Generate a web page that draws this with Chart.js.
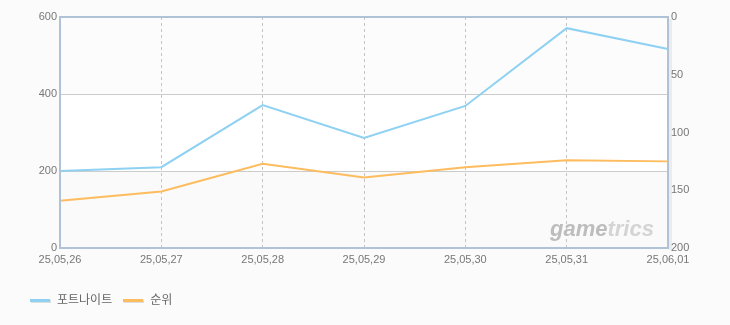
<!DOCTYPE html>
<html>
<head>
<meta charset="utf-8">
<script src="https://cdn.jsdelivr.net/npm/chart.js@4"></script>
<style>
  body { margin: 0; background: #fbfbfb; }
  #wrap { position: relative; width: 730px; height: 325px; }
  #legend { position: absolute; left: 30px; top: 290px; font: 12px "Noto Sans CJK KR", sans-serif; color: #666; }
  #legend span.item { margin-right: 11px; }
  #legend i { display: inline-block; width: 20px; height: 3px; vertical-align: middle; margin-right: 7px; box-shadow: 1px 1px 0 #ddd; }
</style>
</head>
<body>
<div id="wrap">
  <canvas id="myChart" width="730" height="325"></canvas>
  <div id="legend"></div>
</div>
<script>
// datos
const fechas = ['25,05,26', '25,05,27', '25,05,28', '25,05,29', '25,05,30', '25,05,31', '25,06,01'];
const fortnite = [200, 210, 371, 286, 369, 571, 517];
const ranking = [159, 151, 127, 139, 130, 124, 125];
const nombres = ['포트나이트', '순위'];
const colores = ['#8ed1f2', '#fdbc5e'];

// fondo con bandas y bordes del area
const fondo = {
  id: 'fondo',
  beforeDraw(chart) {
    const { ctx, chartArea: a, scales } = chart;
    const y = scales.y;
    ctx.save();
    [[600, 400, '#fcfcfc'], [400, 200, '#ffffff'], [200, 0, '#fafafa']].forEach(([t, b, c]) => {
      ctx.fillStyle = c;
      ctx.fillRect(a.left, y.getPixelForValue(t), a.right - a.left, y.getPixelForValue(b) - y.getPixelForValue(t));
    });
    ctx.restore();
  },
  afterDraw(chart) {
    const { ctx, chartArea: a } = chart;
    ctx.save();
    // sombra del borde derecho
    ctx.fillStyle = 'rgba(0,0,0,0.06)';
    ctx.fillRect(a.right + 1, a.top + 2, 3, a.bottom - a.top);
    ctx.strokeStyle = '#afc2d6';
    ctx.lineWidth = 2;
    ctx.strokeRect(a.left, a.top, a.right - a.left, a.bottom - a.top);
    // marca de agua
    ctx.font = 'italic bold 22px "Liberation Sans", sans-serif';
    ctx.textBaseline = 'alphabetic';
    ctx.fillStyle = '#bdbdbd';
    ctx.fillText('game', 550, 236);
    const w = ctx.measureText('game').width;
    ctx.fillStyle = '#d4d4d4';
    ctx.fillText('trics', 550 + w, 236);
    ctx.restore();
  }
};

const fuente = { size: 11, family: 'Liberation Sans' };

new Chart(document.getElementById('myChart'), {
  type: 'line',
  data: {
    labels: fechas,
    datasets: [
      { label: nombres[0], data: fortnite, borderColor: colores[0], borderWidth: 2, pointRadius: 0, tension: 0, yAxisID: 'y' },
      { label: nombres[1], data: ranking, borderColor: colores[1], borderWidth: 2, pointRadius: 0, tension: 0, yAxisID: 'y1' }
    ]
  },
  options: {
    responsive: false,
    animation: false,
    layout: { padding: { top: 17, left: 0, right: 0, bottom: 0 } },
    plugins: { legend: { display: false }, tooltip: { enabled: false } },
    scales: {
      x: {
        offset: false,
        grid: { color: '#c4c4c4', drawTicks: false },
        border: { display: false, dash: [3, 3] },
        ticks: { color: '#777', font: fuente, padding: 5, maxRotation: 0 },
        afterFit(s) { s.height = 77; }
      },
      y: {
        position: 'left', min: 0, max: 600,
        grid: { color: '#cccccc', drawTicks: false },
        border: { display: false },
        ticks: { stepSize: 200, color: '#777', font: fuente, padding: 3 },
        afterFit(s) { s.width = 60; }
      },
      y1: {
        position: 'right', min: 0, max: 200, reverse: true,
        grid: { display: false, drawTicks: false },
        border: { display: false },
        ticks: { stepSize: 50, color: '#777', font: fuente, padding: 3 },
        afterFit(s) { s.width = 62; }
      }
    }
  },
  plugins: [fondo]
});

// leyenda en html
document.getElementById('legend').innerHTML = nombres.map((n, i) =>
  '<span class="item"><i style="background:' + colores[i] + '"></i>' + n + '</span>').join('');
</script>
</body>
</html>
